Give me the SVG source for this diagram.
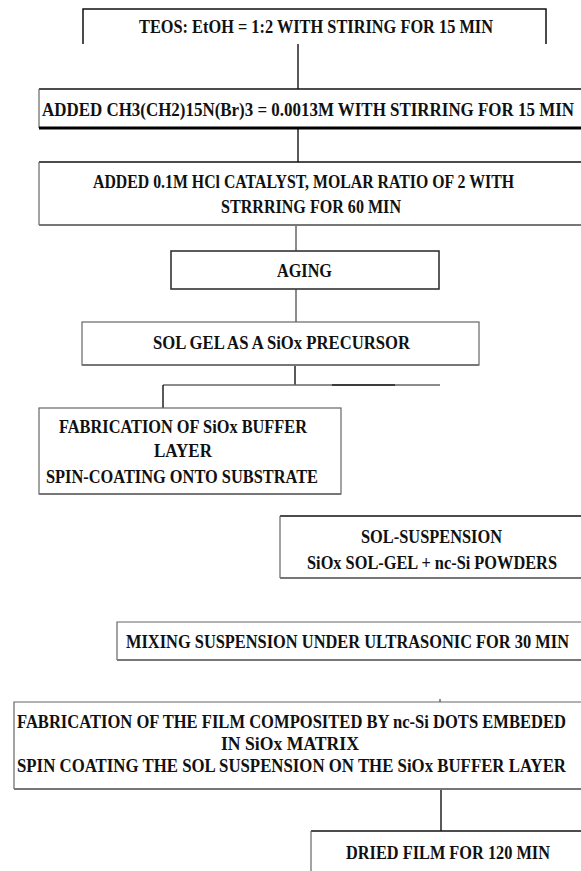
<svg xmlns="http://www.w3.org/2000/svg" width="581" height="871" viewBox="0 0 581 871" font-family="'Liberation Serif', 'DejaVu Serif', serif">
<style>
text{font-family:'Liberation Serif','DejaVu Serif',serif;font-weight:bold;font-size:16px;fill:#111}
.g{stroke:#666;stroke-width:1.2;fill:none}
.k{stroke:#111;stroke-width:1.5;fill:none}
.kt{stroke:#000;stroke-width:3;fill:none}
.gt{stroke:#777;stroke-width:2.2;fill:none}
.c{stroke:#222;stroke-width:1.5;fill:none}
.cg{stroke:#666;stroke-width:1.5;fill:none}
</style>
<rect width="581" height="871" fill="#fff"/>
<g id="connectors">
<line class="c" x1="298" y1="44" x2="298" y2="89"/>
<line class="c" x1="298" y1="128" x2="298" y2="162"/>
<line class="cg" x1="296" y1="225" x2="296" y2="251"/>
<line class="cg" x1="296" y1="289" x2="296" y2="322"/>
<line class="c" x1="295" y1="365" x2="295" y2="385"/>
<line class="cg" x1="163" y1="385" x2="440" y2="385"/>
<line class="c" x1="332" y1="385" x2="395" y2="385"/>
<line class="c" x1="163" y1="385" x2="163" y2="408"/>
<line class="cg" x1="440" y1="699" x2="440" y2="702"/>
<line class="c" x1="441" y1="789" x2="441" y2="831"/>
</g>
<g id="n1">
<path class="k" d="M83,44 V9 H546 V44"/>
<text transform="translate(139,33) scale(1,1.18)" textLength="354" lengthAdjust="spacingAndGlyphs">TEOS: EtOH = 1:2 WITH STIRING FOR 15 MIN</text>
</g>
<g id="n2">
<path class="k" d="M585,89 H39"/>
<path class="g" d="M39,89 V128"/>
<path class="kt" d="M39,128 H585"/>
<text transform="translate(42,116) scale(1,1.18)" textLength="532" lengthAdjust="spacingAndGlyphs">ADDED CH3(CH2)15N(Br)3 = 0.0013M WITH STIRRING FOR 15 MIN</text>
</g>
<g id="n3">
<path class="k" d="M585,162 H39"/>
<path class="g" d="M39,162 V225"/>
<path class="gt" d="M39,225 H585"/>
<text transform="translate(93,188) scale(1,1.18)" textLength="421" lengthAdjust="spacingAndGlyphs">ADDED 0.1M HCl CATALYST, MOLAR RATIO OF 2 WITH</text>
<text transform="translate(221,213) scale(1,1.18)" textLength="180" lengthAdjust="spacingAndGlyphs">STRRRING FOR 60 MIN</text>
</g>
<g id="n4">
<rect x="171" y="251" width="268" height="38" fill="none" stroke="#333" stroke-width="1.6"/>
<text transform="translate(277,277) scale(1,1.18)" textLength="55" lengthAdjust="spacingAndGlyphs">AGING</text>
</g>
<g id="n5">
<rect class="g" x="82" y="322" width="397" height="43"/>
<path class="gt" d="M82,365 H479"/>
<text transform="translate(153,349) scale(1,1.18)" textLength="257" lengthAdjust="spacingAndGlyphs">SOL GEL AS A SiOx PRECURSOR</text>
</g>
<g id="n6">
<rect class="g" x="39" y="408" width="302" height="86"/>
<path class="gt" d="M39,494 H341"/>
<text transform="translate(59,433) scale(1,1.18)" textLength="248" lengthAdjust="spacingAndGlyphs">FABRICATION OF SiOx BUFFER</text>
<text transform="translate(154,457) scale(1,1.18)" textLength="58" lengthAdjust="spacingAndGlyphs">LAYER</text>
<text transform="translate(46,483) scale(1,1.18)" textLength="272" lengthAdjust="spacingAndGlyphs">SPIN-COATING ONTO SUBSTRATE</text>
</g>
<g id="n7">
<path class="k" d="M585,516 H280" stroke-width="2.2"/>
<path class="g" d="M280,516 V578"/>
<path class="gt" d="M280,578 H585"/>
<text transform="translate(361,543) scale(1,1.18)" textLength="141" lengthAdjust="spacingAndGlyphs">SOL-SUSPENSION</text>
<text transform="translate(307,569) scale(1,1.18)" textLength="250" lengthAdjust="spacingAndGlyphs">SiOx SOL-GEL + nc-Si POWDERS</text>
</g>
<g id="n8">
<path class="g" d="M585,622 H117 V660"/>
<path class="gt" d="M117,660 H585" stroke="#555"/>
<text transform="translate(126,648) scale(1,1.18)" textLength="443" lengthAdjust="spacingAndGlyphs">MIXING SUSPENSION UNDER ULTRASONIC FOR 30 MIN</text>
</g>
<g id="n9">
<path class="g" d="M585,702 H14 V789"/>
<path class="gt" d="M14,789 H585" stroke="#555"/>
<text transform="translate(17,728) scale(1,1.18)" textLength="549" lengthAdjust="spacingAndGlyphs">FABRICATION OF THE FILM COMPOSITED BY nc-Si DOTS EMBEDED</text>
<text transform="translate(221,750) scale(1,1.18)" textLength="138" lengthAdjust="spacingAndGlyphs">IN SiOx MATRIX</text>
<text transform="translate(17,772) scale(1,1.18)" textLength="549" lengthAdjust="spacingAndGlyphs">SPIN COATING THE SOL SUSPENSION ON THE SiOx BUFFER LAYER</text>
</g>
<g id="n10">
<path class="k" d="M585,831 H311" stroke-width="2.2"/>
<path class="g" d="M311,831 V875"/>
<text transform="translate(346,859) scale(1,1.18)" textLength="204" lengthAdjust="spacingAndGlyphs">DRIED FILM FOR 120 MIN</text>
</g>
</svg>
